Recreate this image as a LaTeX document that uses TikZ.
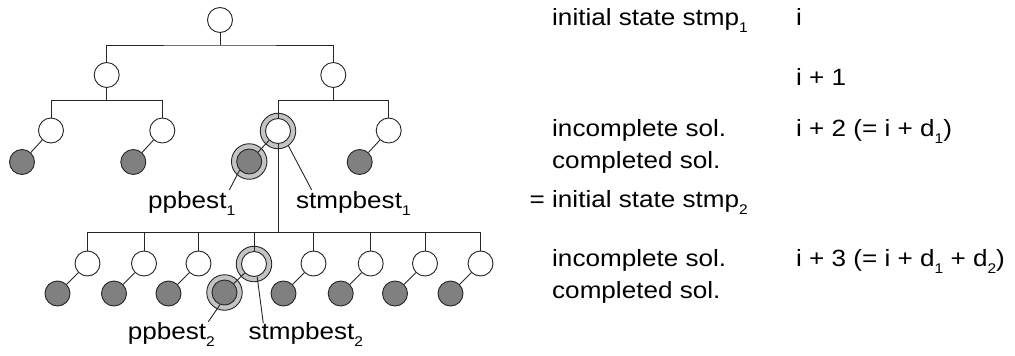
\documentclass[tikz,border=0pt]{standalone}
\usepackage{fontspec}
\setmainfont{Liberation Sans}[FakeStretch=1.11]
\newcommand\lsub[1]{\raisebox{-0.3em}{\fontsize{14}{14}\selectfont #1}}
\definecolor{leafgray}{HTML}{808080}
\definecolor{ringgray}{HTML}{C4C4C4}
\definecolor{linegray}{HTML}{262626}
\begin{document}
\begin{tikzpicture}[x=1pt,y=-1pt,
  conn/.style={draw=linegray,line width=0.9pt},
  wnode/.style={circle,draw=linegray,line width=0.9pt,fill=white,minimum size=25pt,inner sep=0pt},
  dnode/.style={wnode,fill=leafgray},
  ringnode/.style={circle,draw=linegray,line width=0.9pt,fill=ringgray,minimum size=35.5pt,inner sep=0pt},
  lab/.style={anchor=base west,inner sep=0pt,font=\fontsize{23.5}{28}\selectfont}]
\useasboundingbox (0,0) rectangle (1015,356);

% highlighted rings (drawn first, connectors pass over them)
\node[ringnode] (rb1)  at (278,131) {};
\node[ringnode] (rb1l) at (249.2,161.5) {};
\node[ringnode] (rc4)  at (254,264) {};
\node[ringnode] (rc4l) at (224.5,292.5) {};

% level 0 and 1
\node[wnode] (r0) at (220,20) {};
\node[wnode] (a)  at (106.7,75) {};
\node[wnode] (b)  at (333.3,75) {};

% level 2 with completed leaves
\node[wnode] (a1) at (51,130.5) {};
\node[wnode] (a2) at (162.3,130.5) {};
\node[wnode] (b1) at (278,131) {};
\node[wnode] (b2) at (388.7,130.5) {};
\foreach \n in {a1,a2,b2}
  \node[dnode] (\n l) at ([shift={(-29,31.5)}]\n.center) {};
\node[dnode] (b1l) at (249.2,161.5) {};

% level 3 with completed leaves
\foreach \i/\x in {1/87.5,2/144,3/198.5,5/313.5,6/370.7,7/425,8/480.5} {
  \node[wnode] (c\i) at (\x,263.5) {};
  \node[dnode] (c\i l) at ([shift={(-30,30)}]c\i.center) {};
}
\node[wnode] (c4) at (254,264) {};
\node[dnode] (c4l) at (224.5,292.5) {};

% branching bars
\coordinate (j0) at (220,45);
\coordinate (ja) at (106.7,100.7);
\coordinate (jb) at (333.3,100.7);
\coordinate (j3) at (278,232.5);

\draw[conn] (r0.south) -- (j0);
\draw[conn] (a.north) |- (j0) -| (b.north);
\draw[conn] (a.south) -- (ja);
\draw[conn] (a1.north) |- (ja) -| (a2.north);
\draw[conn] (b.south) -- (jb);
\draw[conn] (b1.north) |- (jb) -| (b2.north);
\draw[conn] (b1.south) -- (j3);
\draw[conn] (c1.north) |- (j3) -| (c8.north);
\foreach \i in {2,...,7}
  \draw[conn] (c\i.north) -- (c\i.north |- j3);

% node to completed solution
\foreach \n in {a1,a2,b1,b2,c1,c2,c3,c4,c5,c6,c7,c8}
  \draw[conn] (\n) -- (\n l);

% best markers
\coordinate (p1) at (229.3,190);
\coordinate (s1) at (311.7,190);
\coordinate (p2) at (208.3,321.7);
\coordinate (s2) at (263.3,323.3);
\draw[conn] (b1l.222) -- (p1);
\draw[conn] (rb1.305) -- (s1);
\draw[conn] (c4l.250) -- (p2);
\draw[conn] (c4.284) -- (s2);

\node[lab] (tp1) at (148,208.3) {ppbest\lsub{1}};
\node[lab] (ts1) at (296,208.3) {stmpbest\lsub{1}};
\node[lab] (tp2) at (127.7,339.5) {ppbest\lsub{2}};
\node[lab] (ts2) at (248.3,339.5) {stmpbest\lsub{2}};

% right-hand legend
\node[lab] (l1) at (552,25) {initial state stmp\lsub{1}};
\node[lab] (l2) at (552,136) {incomplete sol.};
\node[lab] (l3) at (552,168) {completed sol.};
\node[lab] (l4) at (552,207) {\llap{= }initial state stmp\lsub{2}};
\node[lab] (l5) at (552,266) {incomplete sol.};
\node[lab] (l6) at (552,298) {completed sol.};

\node[lab] (d0) at (796,25) {i};
\node[lab] (d1) at (796,85) {i + 1};
\node[lab] (d2) at (796,136) {i + 2 (= i + d\lsub{1})};
\node[lab] (d3) at (796,266) {i + 3 (= i + d\lsub{1} + d\lsub{2})};
\end{tikzpicture}
\end{document}
